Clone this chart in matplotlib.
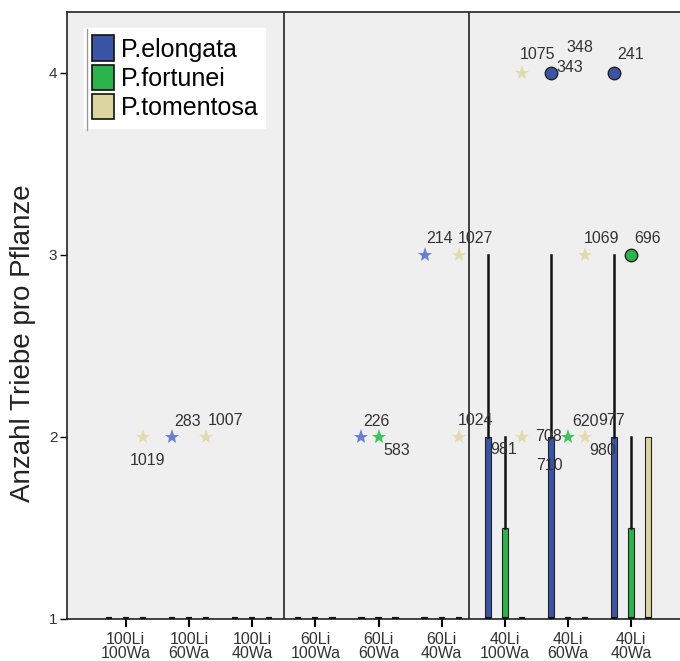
import matplotlib.pyplot as plt
import matplotlib.patches as mpatches

plt.rcParams['font.family'] = ['Liberation Sans', 'DejaVu Sans']

# ─── Daten ─────────────────────────────────────────────
groups = ['100Li\n100Wa', '100Li\n60Wa', '100Li\n40Wa',
          '60Li\n100Wa', '60Li\n60Wa', '60Li\n40Wa',
          '40Li\n100Wa', '40Li\n60Wa', '40Li\n40Wa']
species = ['P.elongata', 'P.fortunei', 'P.tomentosa']
colors = ['#3b55a6', '#2db34b', '#ddd5a0']
star_colors = ['#6a7fd2', '#3cc45e', '#e2dbae']

# Boxplot-Kennwerte je Art: (q1, median, q3, whisker oben) pro Gruppe
elongata_q1 = [1, 1, 1, 1, 1, 1, 1, 1, 1]
elongata_med = [1, 1, 1, 1, 1, 1, 1, 1, 1]
elongata_q3 = [1, 1, 1, 1, 1, 1, 2, 2, 2]
elongata_whi = [1, 1, 1, 1, 1, 1, 3, 3, 3]

fortunei_q1 = [1, 1, 1, 1, 1, 1, 1, 1, 1]
fortunei_med = [1, 1, 1, 1, 1, 1, 1, 1, 1]
fortunei_q3 = [1, 1, 1, 1, 1, 1, 1.5, 1, 1.5]
fortunei_whi = [1, 1, 1, 1, 1, 1, 2, 1, 2]

tomentosa_q1 = [1, 1, 1, 1, 1, 1, 1, 1, 1]
tomentosa_med = [1, 1, 1, 1, 1, 1, 1, 1, 1]
tomentosa_q3 = [1, 1, 1, 1, 1, 1, 1, 1, 2]
tomentosa_whi = [1, 1, 1, 1, 1, 1, 1, 1, 2]

# Ausreisser: Gruppe, Art-Index, Wert
star_group = [0, 1, 1, 4, 4, 5, 5, 5, 6, 6, 7, 7, 7]
star_species = [2, 0, 2, 0, 1, 0, 2, 2, 2, 2, 1, 2, 2]
star_value = [2, 2, 2, 2, 2, 3, 3, 2, 4, 2, 2, 2, 3]

circle_group = [7, 8, 8]
circle_species = [0, 0, 1]
circle_value = [4, 4, 3]

# Fallnummern: Gruppe, Art-Index, Wert, Text
label_group = [0, 1, 1, 4, 4, 5, 5, 5, 6, 7, 7, 6, 7, 7, 7, 7, 7, 7, 8, 8]
label_species = [2, 0, 2, 0, 1, 0, 2, 2, 2, 0, 0, 1, 1, 2, 2, 2, 0, 0, 0, 1]
label_value = [2, 2, 2, 2, 2, 3, 3, 2, 4, 2, 2, 2, 2, 2, 2, 3, 4, 4, 4, 3]
label_text = ['1019', '283', '1007', '226', '583', '214', '1027', '1024',
              '1075', '708', '710', '981', '620', '977', '980', '1069',
              '343', '348', '241', '696']
# Versatz der Beschriftung in Pixeln
label_offset = [(5, -24), (16, 15), (19, 16), (15, 15), (18, -14), (15, 16),
                (17, 16), (17, 16), (16, 18), (-2, 0), (-2, -29), (-1, -13),
                (17, 15), (26, 16), (18, -14), (16, 16), (19, 5), (29, 25),
                (16, 18), (16, 16)]

# ─── Plot ──────────────────────────────────────────────
offsets = [-0.27, 0, 0.27]

fig = plt.figure(figsize=(6.8, 6.61), dpi=100)
ax = fig.add_axes([67 / 680, 42 / 661, (690 - 67) / 680, (619 - 12) / 661])
ax.set_facecolor('#efefef')

stats_all = [
    (elongata_q1, elongata_med, elongata_q3, elongata_whi),
    (fortunei_q1, fortunei_med, fortunei_q3, fortunei_whi),
    (tomentosa_q1, tomentosa_med, tomentosa_q3, tomentosa_whi),
]
for s, (q1s, meds, q3s, whis) in enumerate(stats_all):
    stats = []
    for g in range(len(groups)):
        stats.append({'q1': q1s[g], 'med': meds[g], 'q3': q3s[g],
                      'whislo': q1s[g], 'whishi': whis[g], 'fliers': []})
    ax.bxp(stats, positions=[g + offsets[s] for g in range(len(groups))],
           widths=0.1, patch_artist=True, showcaps=False, manage_ticks=False,
           boxprops=dict(facecolor=colors[s], edgecolor='#222222', linewidth=0.8),
           medianprops=dict(color='#111111', linewidth=3),
           whiskerprops=dict(color='#111111', linewidth=1.8),
           zorder=3)

for g, s, v in zip(star_group, star_species, star_value):
    ax.plot(g + offsets[s], v, marker='*', color=star_colors[s], ms=11,
            markeredgewidth=0, zorder=4)
for g, s, v in zip(circle_group, circle_species, circle_value):
    ax.plot(g + offsets[s], v, marker='o', color=colors[s], ms=9,
            markeredgecolor='#222222', markeredgewidth=1, zorder=4)

for g, s, v, t, (dx, dy) in zip(label_group, label_species, label_value,
                                label_text, label_offset):
    ax.annotate(t, (g + offsets[s], v), xytext=(dx, dy),
                textcoords='offset pixels', ha='center', va='center',
                fontsize=11.5, color='#333333', zorder=5)

for xs in [2.5, 5.43]:
    ax.axvline(xs, color='#222222', linewidth=1.2, zorder=2)

ax.set_xlim(-0.93, 8.93)
ax.set_ylim(1, 4.335)
ax.set_xticks(range(len(groups)))
ax.set_xticklabels(groups, fontsize=11.5, color='#333333', linespacing=1.0)
ax.set_yticks([1, 2, 3, 4])
ax.set_yticklabels(['1', '2', '3', '4'], fontsize=11, color='#333333')
ax.tick_params(axis='x', length=6, width=1.5, pad=3)
ax.tick_params(axis='y', length=5, width=1, pad=2)
for sp in ax.spines.values():
    sp.set_color('#222222')
    sp.set_linewidth(1.2)
ax.set_ylabel('Anzahl Triebe pro Pflanze', fontsize=20, color='#222222')
ax.yaxis.set_label_coords(-0.05, 0.455)

handles = [mpatches.Patch(facecolor=c, edgecolor='#111111', linewidth=1.2,
                          label=l) for c, l in zip(colors, species)]
leg = ax.legend(handles=handles, loc='upper left',
                bbox_to_anchor=(0.028, 0.974), fontsize=18, frameon=True,
                fancybox=False, framealpha=1, facecolor='white',
                edgecolor='white', handlelength=0.9, handleheight=1.2,
                handletextpad=0.25, labelspacing=0.12, borderpad=0.3,
                borderaxespad=0)
# schmale graue Linie links an der Legende
ax.plot([0.032, 0.032], [0.806, 0.972], transform=ax.transAxes,
        color='#999999', linewidth=1, zorder=6)

fig.savefig('out.png', dpi=100)
